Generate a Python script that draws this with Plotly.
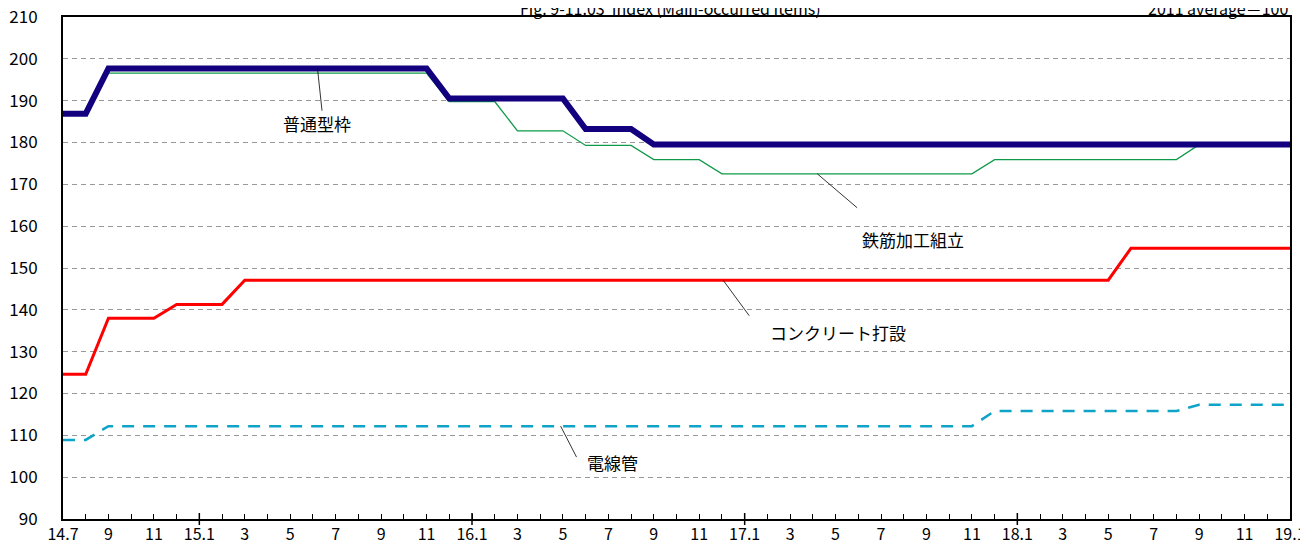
import plotly.graph_objects as go

# monthly, 2014.7 -> 2019.1
months = ["14.7", "14.8", "14.9", "14.10", "14.11", "14.12",
          "15.1", "15.2", "15.3", "15.4", "15.5", "15.6", "15.7", "15.8", "15.9", "15.10", "15.11", "15.12",
          "16.1", "16.2", "16.3", "16.4", "16.5", "16.6", "16.7", "16.8", "16.9", "16.10", "16.11", "16.12",
          "17.1", "17.2", "17.3", "17.4", "17.5", "17.6", "17.7", "17.8", "17.9", "17.10", "17.11", "17.12",
          "18.1", "18.2", "18.3", "18.4", "18.5", "18.6", "18.7", "18.8", "18.9", "18.10", "18.11", "18.12",
          "19.1"]

tick_labels = ["14.7", "9", "11", "15.1", "3", "5", "7", "9", "11", "16.1", "3", "5", "7", "9",
               "11", "17.1", "3", "5", "7", "9", "11", "18.1", "3", "5", "7", "9", "11", "19.1"]

futsu_katawaku = [186.9, 186.9, 197.7, 197.7, 197.7, 197.7,
                  197.7, 197.7, 197.7, 197.7, 197.7, 197.7, 197.7, 197.7, 197.7, 197.7, 197.7, 190.5,
                  190.5, 190.5, 190.5, 190.5, 190.5, 183.2, 183.2, 183.2, 179.5, 179.5, 179.5, 179.5,
                  179.5, 179.5, 179.5, 179.5, 179.5, 179.5, 179.5, 179.5, 179.5, 179.5, 179.5, 179.5,
                  179.5, 179.5, 179.5, 179.5, 179.5, 179.5, 179.5, 179.5, 179.5, 179.5, 179.5, 179.5,
                  179.5]

tekkin = [186.7, 186.7, 196.6, 196.6, 196.6, 196.6,
          196.6, 196.6, 196.6, 196.6, 196.6, 196.6, 196.6, 196.6, 196.6, 196.6, 196.6, 189.8,
          189.8, 189.8, 182.8, 182.8, 182.8, 179.3, 179.3, 179.3, 175.9, 175.9, 175.9, 172.5,
          172.5, 172.5, 172.5, 172.5, 172.5, 172.5, 172.5, 172.5, 172.5, 172.5, 172.5, 175.9,
          175.9, 175.9, 175.9, 175.9, 175.9, 175.9, 175.9, 175.9, 179.5, 179.5, 179.5, 179.5,
          179.5]

concrete = [124.6, 124.6, 138.0, 138.0, 138.0, 141.3,
            141.3, 141.3, 147.1, 147.1, 147.1, 147.1, 147.1, 147.1, 147.1, 147.1, 147.1, 147.1,
            147.1, 147.1, 147.1, 147.1, 147.1, 147.1, 147.1, 147.1, 147.1, 147.1, 147.1, 147.1,
            147.1, 147.1, 147.1, 147.1, 147.1, 147.1, 147.1, 147.1, 147.1, 147.1, 147.1, 147.1,
            147.1, 147.1, 147.1, 147.1, 147.1, 154.7, 154.7, 154.7, 154.7, 154.7, 154.7, 154.7,
            154.7]

densenkan = [108.9, 108.9, 112.2, 112.2, 112.2, 112.2,
             112.2, 112.2, 112.2, 112.2, 112.2, 112.2, 112.2, 112.2, 112.2, 112.2, 112.2, 112.2,
             112.2, 112.2, 112.2, 112.2, 112.2, 112.2, 112.2, 112.2, 112.2, 112.2, 112.2, 112.2,
             112.2, 112.2, 112.2, 112.2, 112.2, 112.2, 112.2, 112.2, 112.2, 112.2, 112.2, 115.8,
             115.8, 115.8, 115.8, 115.8, 115.8, 115.8, 115.8, 115.8, 117.3, 117.3, 117.3, 117.3,
             117.3]

FONT = "Noto Sans CJK JP"
x = list(range(len(months)))

fig = go.Figure()
fig.add_trace(go.Scatter(x=x, y=tekkin, mode="lines", line=dict(color="#0E9A48", width=1.3), name="鉄筋加工組立"))
fig.add_trace(go.Scatter(x=x, y=futsu_katawaku, mode="lines", line=dict(color="#12007F", width=6), name="普通型枠"))
fig.add_trace(go.Scatter(x=x, y=concrete, mode="lines", line=dict(color="#FF0000", width=3), name="コンクリート打設"))
fig.add_trace(go.Scatter(x=x, y=densenkan, mode="lines", line=dict(color="#0FA3C8", width=2.5, dash="12px,9px"), name="電線管"))

# series labels with leader lines: (label, line start, line end, text position)
labels = [
    ("普通型枠", (11.2, 197.7), (11.4, 187.6), (11.2, 184.5)),
    ("鉄筋加工組立", (33.2, 172.5), (34.95, 164.4), (37.4, 156.7)),
    ("コンクリート打設", (29.05, 147.1), (30.2, 138.6), (34.1, 134.7)),
    ("電線管", (21.9, 112.2), (22.6, 104.8), (24.2, 103.6)),
]
for text, p0, p1, pt in labels:
    fig.add_shape(type="line", xref="x", yref="y", x0=p0[0], y0=p0[1], x1=p1[0], y1=p1[1],
                  line=dict(color="black", width=0.8))
    fig.add_annotation(x=pt[0], y=pt[1], text=text, showarrow=False,
                       font=dict(family=FONT, size=17, color="black"))

# January ticks crossing the axis
for i, m in enumerate(months):
    if m.endswith(".1") and 0 < i < len(months) - 1:
        fig.add_shape(type="line", xref="x", yref="paper", x0=i, x1=i, y0=-0.012, y1=0.012,
                      line=dict(color="black", width=1.5))

fig.add_annotation(xref="paper", yref="paper", x=0.4955, y=1.018, text="Fig. 9-11.03  Index (Main-occurred Items)",
                   showarrow=False, font=dict(family=FONT, size=16, color="black"), yanchor="middle")
fig.add_annotation(xref="paper", yref="paper", x=1.0, y=1.018, text="2011 average＝100", xanchor="right",
                   showarrow=False, font=dict(family=FONT, size=16, color="black"), yanchor="middle")

# the page body adds an 8px offset, so the figure is sized to fit the window
fig.update_layout(
    width=1300, height=538,
    plot_bgcolor="white", paper_bgcolor="white",
    margin=dict(l=55, r=18, t=9, b=27, autoexpand=False),
    showlegend=False,
    font=dict(family=FONT, size=17, color="black"),
)
fig.update_xaxes(
    range=[0, len(months) - 1],
    tickmode="array", tickvals=x,
    ticktext=[tick_labels[i // 2] if i % 2 == 0 else "" for i in x],
    ticks="inside", ticklen=5, tickwidth=1.2, tickcolor="black",
    showgrid=False, zeroline=False, automargin=False, ticklabeloverflow="allow",
    showline=True, linecolor="black", linewidth=2, mirror=True,
    tickfont=dict(family=FONT, size=16),
)
fig.update_yaxes(
    range=[90, 210], dtick=10, tick0=90,
    ticks="outside", ticklen=20, tickcolor="rgba(0,0,0,0)",
    showgrid=True, gridcolor="#999999", gridwidth=1, griddash="5px,4px",
    zeroline=False, automargin=False, ticklabeloverflow="allow",
    showline=True, linecolor="black", linewidth=2, mirror=True,
    tickfont=dict(family=FONT, size=17),
)

fig.write_html("out.html")
